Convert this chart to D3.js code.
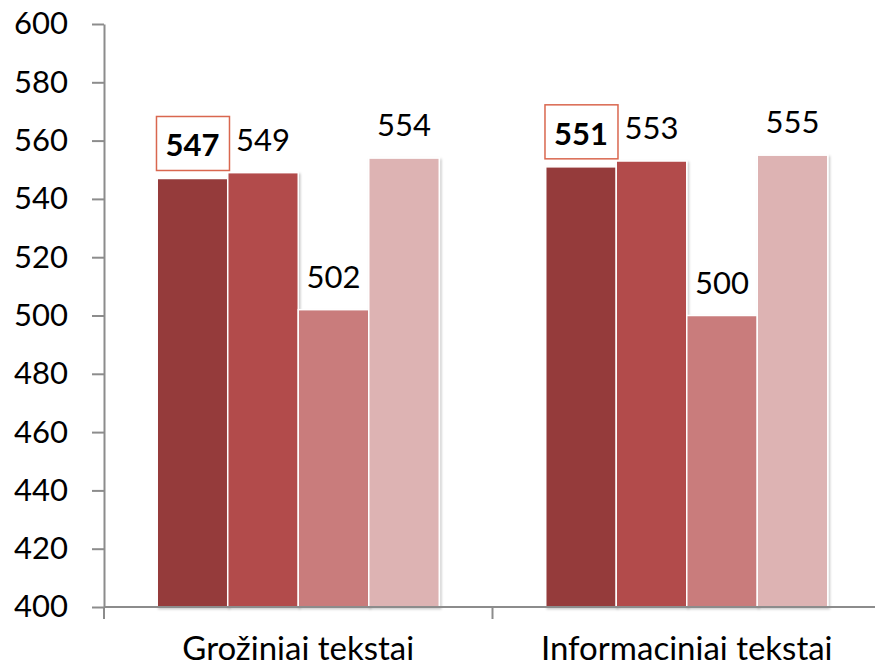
<!DOCTYPE html>
<html>
<head>
<meta charset="utf-8">
<script src="https://cdn.jsdelivr.net/npm/d3@7"></script>
<style>
  body { margin: 0; background: #fff; }
  text { font-family: Lato, "Open Sans", sans-serif; fill: #000; }
</style>
</head>
<body>
<div id="chart"></div>
<script>
const categories = ["Grožiniai tekstai", "Informaciniai tekstai"];
const series = ["s1", "s2", "s3", "s4"];
const values = [
  [547, 549, 502, 554],
  [551, 553, 500, 555]
];
const yTicks = [400, 420, 440, 460, 480, 500, 520, 540, 560, 580, 600];
const colors = ["#953b3b", "#b24b4b", "#c97c7c", "#ddb3b3"];
const highlighted = "s1";

const W = 875, H = 669;
const svg = d3.select("#chart").append("svg")
    .attr("width", W).attr("height", H);

const defs = svg.append("defs");
const f = defs.append("filter").attr("id", "shadow")
    .attr("x", "-10%").attr("y", "-10%").attr("width", "120%").attr("height", "120%");
f.append("feDropShadow").attr("dx", 1.5).attr("dy", 1.5).attr("stdDeviation", 1.2)
    .attr("flood-color", "#000").attr("flood-opacity", 0.22);

const y = d3.scaleLinear().domain([400, 600]).range([607, 24]);
const x0 = d3.scaleBand().domain(categories).range([104, 881]);
const x1 = d3.scaleBand().domain(series).range([0, x0.bandwidth()]).paddingOuter(0.755);

// bars
const groups = svg.append("g").selectAll("g")
  .data(categories)
  .join("g")
    .attr("transform", d => `translate(${x0(d)},0)`);

groups.selectAll("rect")
  .data((d, i) => series.map((s, j) => ({ s: s, v: values[i][j], j: j })))
  .join("rect")
    .attr("x", d => x1(d.s))
    .attr("y", d => y(d.v))
    .attr("width", x1.bandwidth())
    .attr("height", d => y(400) - y(d.v))
    .attr("fill", d => colors[d.j])
    .attr("stroke", "#fff")
    .attr("stroke-width", 1.5)
    .attr("filter", "url(#shadow)");

// labels
const lab = groups.selectAll("g.lab")
  .data((d, i) => series.map((s, j) => ({ s: s, v: values[i][j], j: j })))
  .join("g")
    .attr("class", "lab")
    .attr("transform", d => `translate(${x1(d.s) + x1.bandwidth() / 2},${y(d.v) - 22})`);

lab.filter(d => d.s === highlighted)
  .append("rect")
    .attr("x", -36).attr("y", -40).attr("width", 73).attr("height", 54)
    .attr("fill", "#fff").attr("stroke", "#d9674f").attr("stroke-width", 1.5);

lab.append("text")
    .attr("text-anchor", "middle")
    .attr("font-size", 31)
    .attr("font-weight", d => d.s === highlighted ? "bold" : "normal")
    .text(d => d.v);

// y axis
const yAxis = svg.append("g")
    .attr("transform", "translate(104,0)")
    .call(d3.axisLeft(y).tickValues(yTicks).tickSize(12).tickPadding(24).tickSizeOuter(0));
yAxis.select(".domain").attr("stroke", "#8c8c8c").attr("stroke-width", 2);
yAxis.selectAll(".tick line").attr("stroke", "#8c8c8c").attr("stroke-width", 2);
yAxis.selectAll(".tick text").attr("font-size", 31).attr("font-family", "Lato, sans-serif").attr("fill", "#000");

// x axis
const xAxis = svg.append("g").attr("transform", `translate(0,${y(400)})`);
xAxis.append("line")
    .attr("x1", 104).attr("x2", W).attr("y1", 0).attr("y2", 0)
    .attr("stroke", "#8c8c8c").attr("stroke-width", 2);
xAxis.selectAll("line.sep")
  .data(categories)
  .join("line")
    .attr("class", "sep")
    .attr("x1", d => x0(d)).attr("x2", d => x0(d))
    .attr("y1", 0).attr("y2", 12)
    .attr("stroke", "#8c8c8c").attr("stroke-width", 2);
xAxis.selectAll("text")
  .data(categories)
  .join("text")
    .attr("x", d => x0(d) + x0.bandwidth() / 2)
    .attr("y", 53)
    .attr("text-anchor", "middle")
    .attr("font-size", 33)
    .text(d => d);
</script>
</body>
</html>
